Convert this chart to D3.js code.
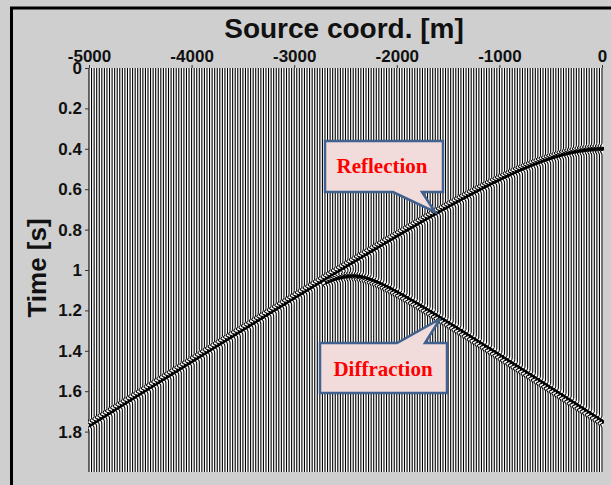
<!DOCTYPE html>
<html>
<head>
<meta charset="utf-8">
<script src="https://cdn.jsdelivr.net/npm/d3@7"></script>
<style>
  body { margin: 0; background: #cfcfcf; }
  svg { display: block; }
</style>
</head>
<body>
<svg id="chart"></svg>
<script>
// axis ticks
const xTicks = [-5000, -4000, -3000, -2000, -1000, 0];
const yTicks = [0, 0.2, 0.4, 0.6, 0.8, 1, 1.2, 1.4, 1.6, 1.8];

// source positions of the traces (m)
const traceCoords = d3.range(-5000, 1, 25);

// events picked off the section:
// t = shift + sqrt(tz^2 + ((s - apex) / v)^2), drawn from the first trace onward
const eventNames = ["Reflection", "Diffraction"];
const apexCoord = [0, -2450];
const timeShift = [0.12, 0.938];
const apexDepthTime = [0.28, 0.092];
const velocity = [3079, 3030];
const eventStart = [-5000, -2700];

const width = 611, height = 485;
const plot = {left: 89, right: 602, top: 68, bottom: 472};

const svg = d3.select("#chart")
    .attr("width", width)
    .attr("height", height);

svg.append("rect")
    .attr("width", width).attr("height", height)
    .attr("fill", "#cfcfcf");

// outer frame (only left and top edges are inside the picture)
svg.append("rect")
    .attr("x", 11.5).attr("y", 8)
    .attr("width", 700).attr("height", 600)
    .attr("fill", "none")
    .attr("stroke", "#000")
    .attr("stroke-width", 3);

const x = d3.scaleLinear().domain([-5000, 0]).range([plot.left, plot.right]);
const y = d3.scaleLinear().domain([0, 2]).range([plot.top, plot.bottom]);

svg.append("rect")
    .attr("x", plot.left).attr("y", plot.top)
    .attr("width", plot.right - plot.left + 1).attr("height", plot.bottom - plot.top)
    .attr("fill", "#fff");

// ricker wavelet
const freq = 28;
function ricker(tau) {
    const a = Math.PI * Math.PI * freq * freq * tau * tau;
    return (1 - 2 * a) * Math.exp(-a);
}

function eventTime(i, s) {
    const dx = (s - apexCoord[i]) / velocity[i];
    return timeShift[i] + Math.sqrt(apexDepthTime[i] * apexDepthTime[i] + dx * dx);
}

const amp = 3.2;

const traces = traceCoords.map(s => {
    let times = [0, 2];
    const active = [];
    eventNames.forEach((name, i) => {
        if (s < eventStart[i]) return;
        const t0 = eventTime(i, s);
        active.push(t0);
        for (let t = t0 - 0.05; t <= t0 + 0.05; t += 0.001) {
            if (t > 0 && t < 2) times.push(t);
        }
    });
    times.sort((a, b) => a - b);
    const pts = times.map(t => {
        let dev = 0;
        active.forEach(t0 => { dev += ricker(t - t0); });
        return {t: t, dev: amp * dev};
    });
    return {s: s, pts: pts};
});

svg.append("clipPath").attr("id", "clip")
    .append("rect")
    .attr("x", plot.left - 1).attr("y", plot.top)
    .attr("width", plot.right - plot.left + 3).attr("height", plot.bottom - plot.top);

const g = svg.append("g")
    .attr("clip-path", "url(#clip)");

const area = d3.area()
    .y(d => y(d.t));

const line = d3.line()
    .y(d => y(d.t));

const tr = g.selectAll("g.trace")
    .data(traces)
    .join("g")
    .attr("class", "trace");

tr.append("path")
    .attr("d", d => area
        .x0(x(d.s))
        .x1(p => x(d.s) + Math.max(0, p.dev))(d.pts))
    .attr("fill", "#000");

tr.append("path")
    .attr("d", d => line.x(p => x(d.s) + p.dev)(d.pts))
    .attr("fill", "none")
    .attr("stroke", "#000")
    .attr("stroke-width", 1.1);

// axes
const xAxis = svg.append("g")
    .attr("transform", `translate(0,${plot.top})`)
    .call(d3.axisTop(x).tickValues(xTicks).tickSize(3).tickPadding(3).tickFormat(d => String(d)));

const yAxis = svg.append("g")
    .attr("transform", `translate(${plot.left},0)`)
    .call(d3.axisLeft(y).tickValues(yTicks).tickSize(4).tickPadding(3).tickFormat(d => String(d)));

[xAxis, yAxis].forEach(ax => {
    ax.select(".domain").remove();
    ax.selectAll(".tick line").attr("stroke", "#333");
    ax.selectAll("text")
        .attr("fill", "#111")
        .style("font-family", "Liberation Sans, Arial, sans-serif")
        .style("font-size", "17px")
        .style("font-weight", "bold");
});

svg.append("text")
    .attr("x", 344).attr("y", 38)
    .attr("text-anchor", "middle")
    .style("font-family", "Liberation Sans, Arial, sans-serif")
    .style("font-size", "28px")
    .style("font-weight", "bold")
    .attr("fill", "#111")
    .text("Source coord. [m]");

svg.append("text")
    .attr("transform", "translate(46,268) rotate(-90)")
    .attr("text-anchor", "middle")
    .style("font-family", "Liberation Sans, Arial, sans-serif")
    .style("font-size", "26px")
    .style("font-weight", "bold")
    .attr("fill", "#111")
    .text("Time [s]");

// callouts
const callouts = [
    {label: "Reflection", path: "M325,141 H443 V192 H422 L435,212 L393,192 H325 Z", tx: 382, ty: 173},
    {label: "Diffraction", path: "M320,343 H397 L440,319 L425,343 H447 V393 H320 Z", tx: 383, ty: 376}
];

callouts.forEach(c => {
    svg.append("path")
        .attr("d", c.path)
        .attr("fill", "#f2dcdb")
        .attr("stroke", "#41628e")
        .attr("stroke-width", 2.5)
        .attr("stroke-linejoin", "miter");
    svg.append("text")
        .attr("x", c.tx).attr("y", c.ty)
        .attr("text-anchor", "middle")
        .style("font-family", "Liberation Serif, Times New Roman, serif")
        .style("font-size", "21px")
        .style("font-weight", "bold")
        .attr("fill", "#ff0000")
        .text(c.label);
});
</script>
</body>
</html>
